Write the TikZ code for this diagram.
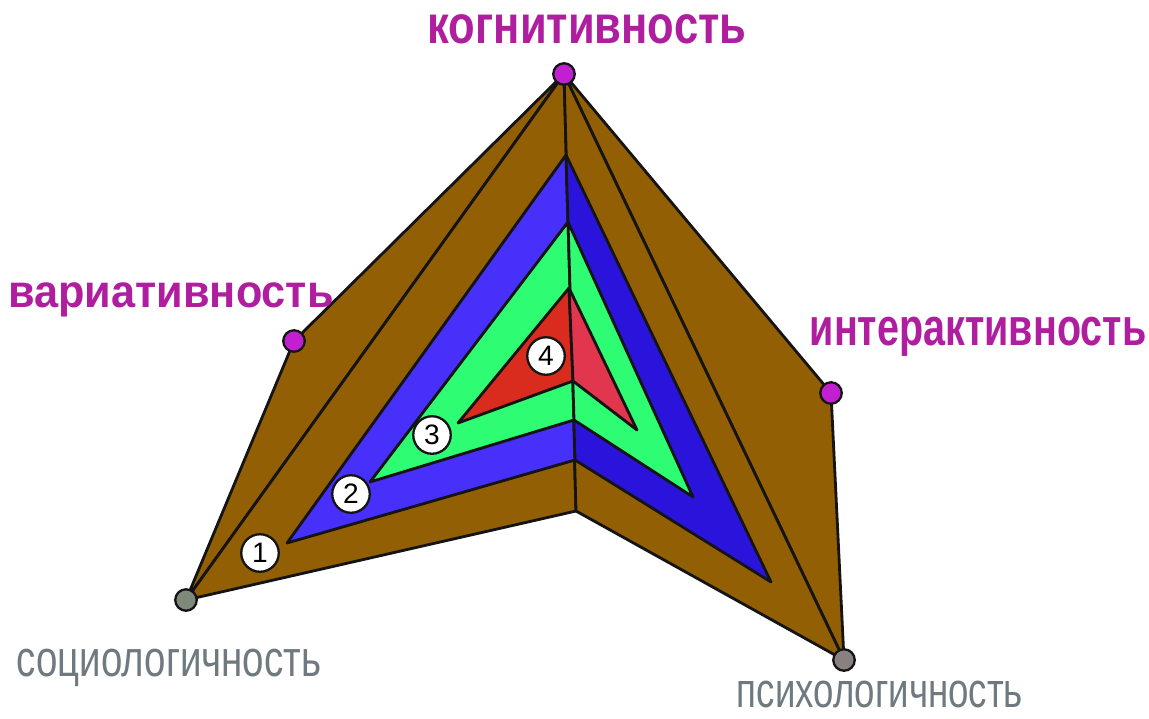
\documentclass[tikz,border=0pt]{standalone}
\usepackage{fontspec}
\setmainfont{Liberation Sans}
\usepackage{graphicx}
\definecolor{layerbrown}{RGB}{147,95,5}
\definecolor{blueleft}{RGB}{70,48,250}
\definecolor{blueright}{RGB}{42,20,220}
\definecolor{greenface}{RGB}{46,252,114}
\definecolor{redleft}{RGB}{217,43,30}
\definecolor{redright}{RGB}{226,54,78}
\definecolor{dotmagenta}{RGB}{192,32,208}
\definecolor{txtmagenta}{RGB}{176,30,160}
\definecolor{dotsocio}{RGB}{128,136,124}
\definecolor{dotpsycho}{RGB}{138,128,128}
\definecolor{txtgray}{RGB}{110,122,128}

\begin{document}
\begin{tikzpicture}[x=0.02cm, y=-0.02cm,
  face/.style={draw=black!92, line width=1.6pt, line join=round},
  vdot/.style={circle, draw=black!92, line width=1.3pt, minimum size=0.43cm, inner sep=0pt},
  numcirc/.style={circle, draw=black!92, fill=white, line width=1.3pt, minimum size=0.75cm, inner sep=0pt, font=\fontsize{16}{16}\selectfont},
  headlbl/.style={anchor=base, text=txtmagenta, font=\bfseries, inner sep=1pt},
  baselbl/.style={anchor=base, text=txtgray, inner sep=0pt}]
  \useasboundingbox (0,0) rectangle (1149,718);
  % outer vertices
  \coordinate (kog) at (564,74);
  \coordinate (var) at (294,341);
  \coordinate (int) at (831,393);
  \coordinate (soc) at (186,600);
  \coordinate (psy) at (844,660);
  \coordinate (ctr) at (576,511);
  % layer 2
  \coordinate (b1) at (566,155);
  \coordinate (b2) at (287,543);
  \coordinate (b3) at (575,460);
  \coordinate (b4) at (771,582);
  % layer 3
  \coordinate (g1) at (568,222);
  \coordinate (g2) at (370,482);
  \coordinate (g3) at (574,420);
  \coordinate (g4) at (693,497);
  % layer 4
  \coordinate (r1) at (569,288);
  \coordinate (r2) at (458,423);
  \coordinate (r3) at (573,381);
  \coordinate (r4) at (637,430);

  % brown petals and layer 1
  \filldraw[face, fill=layerbrown] (kog) -- (var) -- (soc) -- cycle;
  \filldraw[face, fill=layerbrown] (kog) -- (psy) -- (int) -- cycle;
  \filldraw[face, fill=layerbrown] (kog) -- (soc) -- (ctr) -- cycle;
  \filldraw[face, fill=layerbrown] (kog) -- (ctr) -- (psy) -- cycle;
  % layer 2
  \filldraw[face, fill=blueleft] (b1) -- (b2) -- (b3) -- cycle;
  \filldraw[face, fill=blueright] (b1) -- (b3) -- (b4) -- cycle;
  % layer 3
  \filldraw[face, fill=greenface] (g1) -- (g2) -- (g3) -- cycle;
  \filldraw[face, fill=greenface] (g1) -- (g3) -- (g4) -- cycle;
  % layer 4
  \filldraw[face, fill=redleft] (r1) -- (r2) -- (r3) -- cycle;
  \filldraw[face, fill=redright] (r1) -- (r3) -- (r4) -- cycle;

  % vertex dots
  \node[vdot, fill=dotmagenta] (dkog) at (kog) {};
  \node[vdot, fill=dotmagenta] (dvar) at (var) {};
  \node[vdot, fill=dotmagenta] (dint) at (int) {};
  \node[vdot, fill=dotsocio] (dsoc) at (soc) {};
  \node[vdot, fill=dotpsycho] (dpsy) at (psy) {};

  % layer numbers
  \node[numcirc] (n1) at (260,553) {1};
  \node[numcirc] (n2) at (351,494) {2};
  \node[numcirc] (n3) at (432,435) {3};
  \node[numcirc] (n4) at (546,356) {4};

  % labels
  \node[headlbl] (lkog) at (587,43) {\scalebox{0.81}[1]{\fontsize{30.6}{34}\selectfont когнитивность}};
  \node[headlbl] (lvar) at (171,307) {\scalebox{0.94}[1]{\fontsize{26.2}{30}\selectfont вариативность}};
  \node[headlbl] (lint) at (978,345) {\scalebox{0.75}[1]{\fontsize{30}{34}\selectfont интерактивность}};
  \node[baselbl] (lsoc) at (169,676) {\scalebox{0.755}[1]{\fontsize{29}{32}\selectfont социологичность}};
  \node[baselbl] (lpsy) at (880,707) {\scalebox{0.745}[1]{\fontsize{28}{32}\selectfont психологичность}};
\end{tikzpicture}
\end{document}
